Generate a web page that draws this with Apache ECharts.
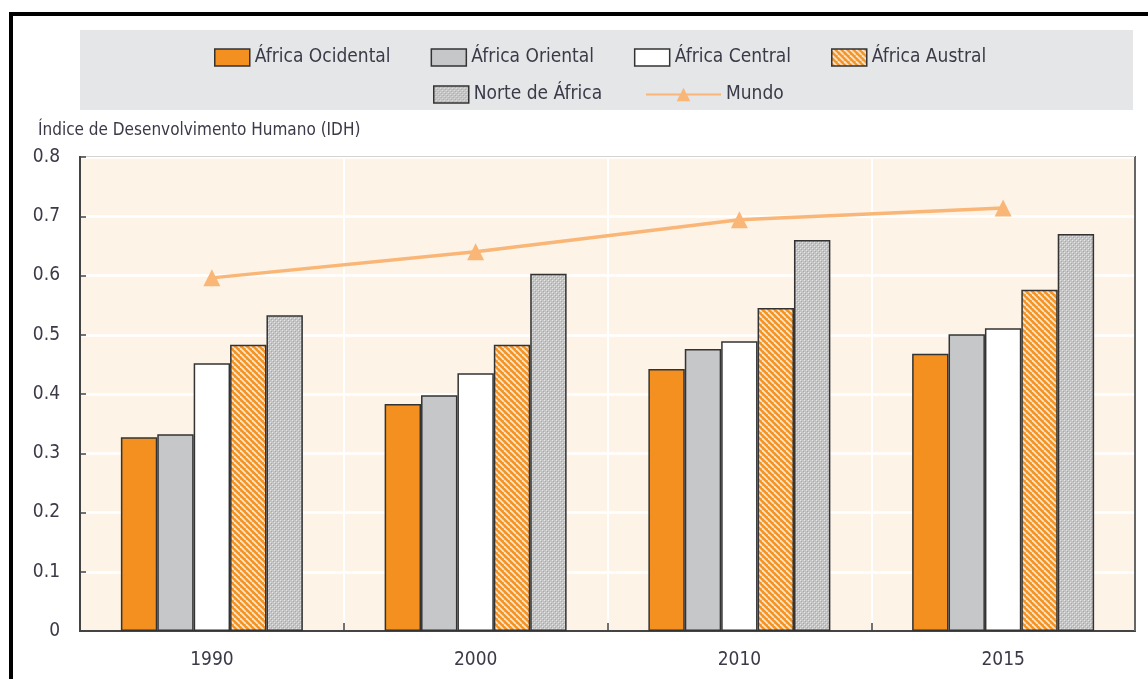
<!DOCTYPE html>
<html><head><meta charset="utf-8">
<script src="https://cdn.jsdelivr.net/npm/echarts@6/dist/echarts.min.js"></script>
<style>html,body{margin:0;padding:0;background:#fff}#c{width:1148px;height:679px}</style>
</head><body><div id="c"></div>
<script>
const categories = ['1990','2000','2010','2015'];
const africaOcidental = [0.327, 0.383, 0.442, 0.468];
const africaOriental = [0.332, 0.398, 0.476, 0.501];
const africaCentral = [0.452, 0.435, 0.489, 0.511];
const africaAustral = [0.483, 0.483, 0.545, 0.576];
const norteAfrica = [0.533, 0.603, 0.660, 0.670];
const mundo = [0.596, 0.640, 0.694, 0.714];
const seriesNames = ['África Ocidental','África Oriental','África Central','África Austral','Norte de África','Mundo'];
const yAxisTitle = 'Índice de Desenvolvimento Humano (IDH)';

const FONT = "'Liberation Sans Narrow','DejaVu Sans Condensed','Roboto Condensed',sans-serif";
const TXT = '#3a3a48';

function stripes(){
  const c = document.createElement('canvas'); c.width = 6; c.height = 6;
  const g = c.getContext('2d');
  g.fillStyle = '#f39325'; g.fillRect(0,0,6,6);
  g.strokeStyle = '#fde6cc'; g.lineWidth = 1.8;
  for (let k=-6;k<=12;k+=6){ g.beginPath(); g.moveTo(k,0); g.lineTo(k+6,6); g.stroke(); }
  return {image:c, repeat:'repeat'};
}
function dots(){
  const c = document.createElement('canvas'); c.width = 4; c.height = 4;
  const g = c.getContext('2d');
  g.fillStyle = '#c4c4c4'; g.fillRect(0,0,4,4);
  g.fillStyle = '#e6e6e6'; g.fillRect(0,0,1,1); g.fillRect(2,2,1,1);
  g.fillStyle = '#a9a9a9'; g.fillRect(1,1,1,1); g.fillRect(3,3,1,1);
  return {image:c, repeat:'repeat'};
}
const fills = ['#f39020','#c6c7c9','#ffffff',stripes(),dots()];
const barData = [africaOcidental, africaOriental, africaCentral, africaAustral, norteAfrica];

const chart = echarts.init(document.getElementById('c'), null, {renderer:'canvas'});
const series = barData.map((d,i)=>({
  name: seriesNames[i], type:'bar', data:d, barGap:'0%', barCategoryGap:'31%',
  itemStyle:{color:fills[i], borderColor:'#333', borderWidth:1.5},
  z:2
}));
series.push({
  name: seriesNames[5], type:'line', data:mundo, symbol:'triangle', symbolSize:17,
  itemStyle:{color:'#f9b676'}, lineStyle:{color:'#f9b676', width:3.5}, z:5
});
const legText = {fontFamily:FONT, fontSize:19, color:TXT};
chart.setOption({
  animation:false,
  backgroundColor:'#fff',
  grid:{left:80, right:13, top:157, bottom:48, show:true, backgroundColor:'#fdf3e7', borderColor:'#555', borderWidth:2},
  graphic:[
    {type:'rect', shape:{x:80,y:30,width:1053,height:80}, style:{fill:'#e5e6e8'}, z:-1},
    {type:'line', shape:{x1:9,y1:14,x2:1148,y2:14}, style:{stroke:'#000', lineWidth:4}},
    {type:'line', shape:{x1:11,y1:12,x2:11,y2:679}, style:{stroke:'#000', lineWidth:4}},
    {type:'line', shape:{x1:1135,y1:157,x2:1135,y2:631}, style:{stroke:'#666', lineWidth:2}, z:10},
    {type:'text', left:38, top:122, style:{text:yAxisTitle, font:'17px '+FONT, fill:TXT}}
  ],
  legend:[
    {data:seriesNames.slice(0,4), left:209, top:43, icon:'rect', itemWidth:35, itemHeight:17, itemGap:40, textStyle:legText,
     itemStyle:{borderColor:'#333', borderWidth:1.5}},
    {data:[seriesNames[4]], left:428, top:80, icon:'rect', itemWidth:35, itemHeight:17, textStyle:legText,
     itemStyle:{borderColor:'#333', borderWidth:1.5}},
    {data:[seriesNames[5]], left:640, top:80, itemWidth:75, itemHeight:17, textStyle:legText}
  ],
  xAxis:{type:'category', data:categories,
    axisLine:{lineStyle:{color:'#444', width:2}},
    axisTick:{show:true, inside:true, length:8, lineStyle:{color:'#444', width:1.5}},
    splitLine:{show:true, lineStyle:{color:'#ffffff', width:2}},
    axisLabel:{fontFamily:FONT, fontSize:19, color:TXT, margin:20}},
  yAxis:{type:'value', min:0, max:0.8, interval:0.1,
    axisLine:{show:true, lineStyle:{color:'#444', width:2}},
    axisTick:{show:true, inside:true, length:6, lineStyle:{color:'#444', width:1.5}},
    splitLine:{show:true, lineStyle:{color:'#ffffff', width:2.5}},
    axisLabel:{fontFamily:FONT, fontSize:19, color:TXT, margin:20, formatter:v=>v===0?'0':v.toFixed(1)}},
  series:series
});
</script></body></html>
